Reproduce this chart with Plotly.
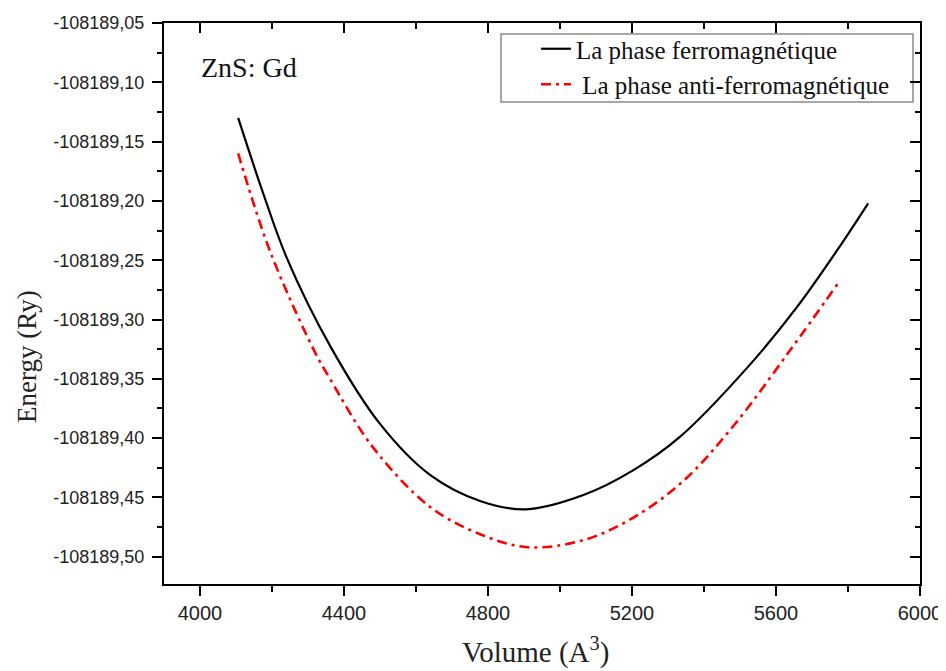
import plotly.graph_objects as go

# volumes (A^3) and energies (Ry)
vol_ferro = [4106, 4176, 4241, 4361, 4500, 4639, 4778, 4905, 5065, 5204,
             5333, 5519, 5657, 5769, 5856]
e_ferro = [-108189.130, -108189.194, -108189.248, -108189.322, -108189.388,
           -108189.431, -108189.453, -108189.460, -108189.448, -108189.427,
           -108189.399, -108189.341, -108189.290, -108189.242, -108189.202]

vol_anti = [4106, 4194, 4315, 4361, 4481, 4639, 4778, 4910, 5065, 5204,
            5343, 5481, 5639, 5771]
e_anti = [-108189.160, -108189.242, -108189.325, -108189.350, -108189.408,
          -108189.458, -108189.481, -108189.492, -108189.486, -108189.467,
          -108189.436, -108189.390, -108189.326, -108189.270]

y_ticks = [-108189.05, -108189.10, -108189.15, -108189.20, -108189.25,
           -108189.30, -108189.35, -108189.40, -108189.45, -108189.50]
y_ticktext = [("%.2f" % v).replace(".", ",") for v in y_ticks]

x_range = [3900, 6000]
y_range = [-108189.523, -108189.05]

serif = "Liberation Serif, Times New Roman, serif"
sans = "Liberation Sans, Arial, sans-serif"

# plot area in screen pixels (from the reference); the page body adds an 8px margin
OFF = 8
L, R, T, B = 164, 920, 23, 584
W, H = 946 - OFF, 671 - OFF


def px(xp, yp):
    # screen pixel position -> paper coords
    return (xp - L) / (R - L), (B - yp) / (B - T)


fig = go.Figure()
fig.add_trace(go.Scatter(x=vol_ferro, y=e_ferro, mode="lines", line_shape="spline",
                         line=dict(color="black", width=2.2),
                         name="La phase ferromagnétique"))
fig.add_trace(go.Scatter(x=vol_anti, y=e_anti, mode="lines", line_shape="spline",
                         line=dict(color="#ff0000", width=2.6, dash="10px,5px,3px,5px"),
                         name=" La phase anti-ferromagnétique"))
# empty trace so the mirrored (inside-tick) axes get drawn
fig.add_trace(go.Scatter(x=[None], y=[None], xaxis="x2", yaxis="y2",
                         showlegend=False, hoverinfo="skip"))

axis_common = dict(showgrid=False, zeroline=False, linecolor="black", linewidth=2,
                   tickcolor="black", tickwidth=2, automargin=False)

fig.update_layout(
    width=W, height=H,
    margin=dict(l=L - OFF, r=W - (R - OFF), t=T - OFF, b=H - (B - OFF)),
    plot_bgcolor="white", paper_bgcolor="white",
    xaxis=dict(range=x_range, tickmode="linear", tick0=4000, dtick=400,
               ticks="outside", ticklen=10, showline=True, mirror=True,
               minor=dict(ticks="outside", ticklen=6, tickmode="linear",
                          tick0=4000, dtick=200, tickcolor="black", tickwidth=2),
               tickfont=dict(family=sans, size=20, color="#222"),
               **axis_common),
    yaxis=dict(range=y_range, tickmode="array", tickvals=y_ticks, ticktext=y_ticktext,
               ticks="outside", ticklen=10, showline=True, mirror=True,
               ticklabelstandoff=4,
               minor=dict(ticks="outside", ticklen=5, tickmode="linear",
                          tick0=-108189.05, dtick=0.025, tickcolor="black", tickwidth=2),
               tickfont=dict(family=sans, size=18, color="#222"),
               **axis_common),
    xaxis2=dict(range=x_range, overlaying="x", side="top", tickmode="linear",
                tick0=4000, dtick=400, ticks="inside", ticklen=10,
                showticklabels=False,
                minor=dict(ticks="inside", ticklen=6, tickmode="linear",
                           tick0=4000, dtick=200, tickcolor="black", tickwidth=2),
                **axis_common),
    yaxis2=dict(range=y_range, overlaying="y", side="right", tickmode="array",
                tickvals=y_ticks, ticks="inside", ticklen=10, showticklabels=False,
                minor=dict(ticks="inside", ticklen=5, tickmode="linear",
                           tick0=-108189.05, dtick=0.025, tickcolor="black", tickwidth=2),
                **axis_common),
    legend=dict(x=px(536, 0)[0], y=px(0, 26)[1], xanchor="left", yanchor="top",
                bgcolor="rgba(0,0,0,0)", borderwidth=0,
                font=dict(family=serif, size=25, color="#111"),
                tracegroupgap=0),
    showlegend=True,
)

# legend frame as in the reference
x0, y0 = px(501, 102)
x1, y1 = px(913, 34)
fig.add_shape(type="rect", xref="paper", yref="paper", x0=x0, y0=y0, x1=x1, y1=y1,
              line=dict(color="#8a8a8a", width=1.5), fillcolor="white", layer="below")

ax, ay = px(199, 68)
fig.add_annotation(text="ZnS: Gd", xref="paper", yref="paper", x=ax, y=ay,
                   xanchor="left", yanchor="middle", showarrow=False,
                   font=dict(family=serif, size=28, color="#111"))

tx, ty = px(535, 650)
fig.add_annotation(text="Volume (A<sup>3</sup>)", xref="paper", yref="paper", x=tx, y=ty,
                   xanchor="center", yanchor="middle", showarrow=False,
                   font=dict(family=serif, size=29, color="#222"))

ex, ey = px(27, 357)
fig.add_annotation(text="Energy (Ry)", xref="paper", yref="paper", x=ex, y=ey,
                   xanchor="center", yanchor="middle", showarrow=False, textangle=-90,
                   font=dict(family=serif, size=27, color="#222"))

fig.write_html("out.html")
